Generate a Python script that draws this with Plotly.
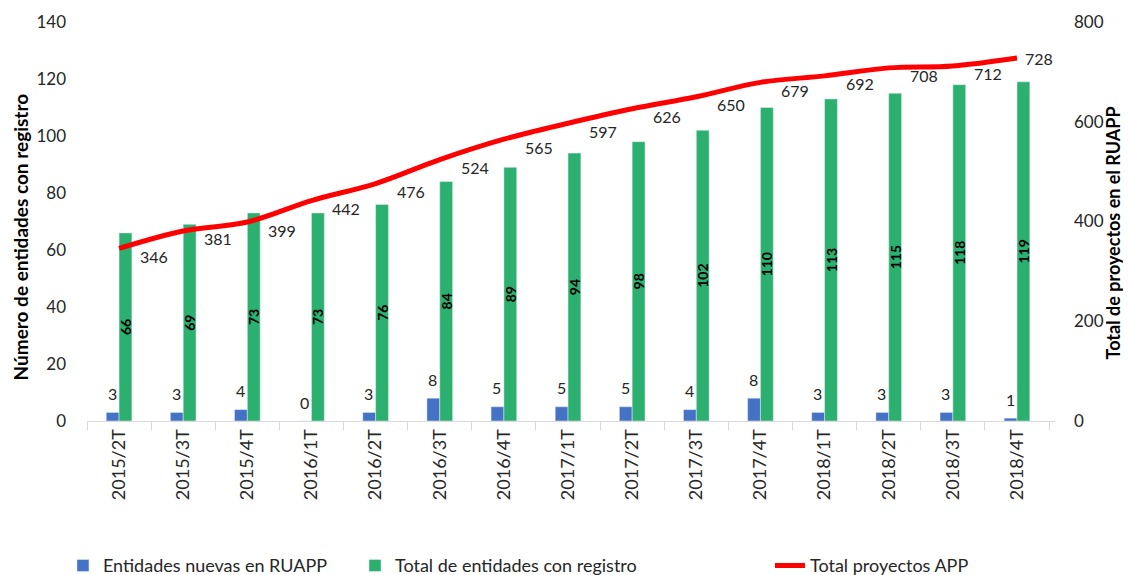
import plotly.graph_objects as go

# --- Data ---
quarters = ['2015/2T', '2015/3T', '2015/4T', '2016/1T', '2016/2T', '2016/3T', '2016/4T',
            '2017/1T', '2017/2T', '2017/3T', '2017/4T', '2018/1T', '2018/2T', '2018/3T', '2018/4T']
nuevas = [3, 3, 4, 0, 3, 8, 5, 5, 5, 4, 8, 3, 3, 3, 1]
total_entidades = [66, 69, 73, 73, 76, 84, 89, 94, 98, 102, 110, 113, 115, 118, 119]
total_proyectos = [346, 381, 399, 442, 476, 524, 565, 597, 626, 650, 679, 692, 708, 712, 728]

FONT = 'Lato'
BLUE = '#4472C4'
GREEN = '#2BB070'
RED = '#FF0000'
TXT = '#262626'

fig = go.Figure()

fig.add_trace(go.Bar(
    x=quarters, y=nuevas, name='Entidades nuevas en RUAPP',
    marker_color=BLUE, legend='legend', showlegend=True,
))
fig.add_trace(go.Bar(
    x=quarters, y=total_entidades, name='Total de entidades con registro',
    marker_color=GREEN, legend='legend2', showlegend=True,
    text=total_entidades, textposition='inside', textangle=-90,
    insidetextanchor='middle',
    textfont=dict(family=FONT, size=14, color='black', weight='bold'),
))
fig.add_trace(go.Scatter(
    x=quarters, y=total_proyectos, name='Total proyectos APP',
    yaxis='y2', mode='lines', line=dict(color=RED, width=5, shape='spline'),
    legend='legend3', showlegend=True,
))

# labels for the new entities (above the blue bars)
for q, v in zip(quarters, nuevas):
    fig.add_annotation(x=q, y=v, yref='y', text=str(v), showarrow=False,
                       xshift=-7, yshift=19,
                       font=dict(family=FONT, size=16, color=TXT))

# labels for the project line (right of each point)
for i, (q, v) in enumerate(zip(quarters, total_proyectos)):
    last = i == len(quarters) - 1
    fig.add_annotation(x=q, y=v, yref='y2', text=str(v), showarrow=False,
                       xanchor='left', xshift=6 if last else 19,
                       yshift=-1 if last else -8,
                       font=dict(family=FONT, size=16, color=TXT))

# axis titles as rotated annotations (easier to place than axis titles here)
fig.add_annotation(xref='paper', yref='paper', x=0, y=0.46, xshift=-67,
                   xanchor='center', yanchor='middle',
                   text='<b>Número de entidades con registro</b>', textangle=-90,
                   showarrow=False, font=dict(family=FONT, size=19, color='black'))
fig.add_annotation(xref='paper', yref='paper', x=1, y=0.47, xshift=58,
                   xanchor='center', yanchor='middle',
                   text='<b>Total de proyectos en el RUAPP</b>', textangle=-90,
                   showarrow=False, font=dict(family=FONT, size=18, color='black'))

# legends placed in container coords so they don't push the margins
legend_common = dict(orientation='h', xref='container', yref='container',
                     xanchor='left', yanchor='middle', y=0.03,
                     font=dict(family=FONT, size=18, color=TXT),
                     bgcolor='rgba(0,0,0,0)')

# note: the page body adds an 8px offset, margins below account for it
fig.update_layout(
    width=1131, height=575,
    margin=dict(l=79, r=84, t=14, b=162),
    plot_bgcolor='white', paper_bgcolor='white',
    font=dict(family=FONT, size=16, color=TXT),
    showlegend=True,
    barmode='group', bargap=0.6, bargroupgap=0,
    uniformtext=dict(minsize=14, mode='show'),
    xaxis=dict(
        type='category', tickangle=-90, showline=True, linecolor='#D9D9D9',
        linewidth=1, ticks='outside', tickson='boundaries', ticklen=8,
        tickcolor='#D9D9D9', showgrid=False, automargin=False,
        tickfont=dict(family=FONT, size=18, color=TXT),
    ),
    yaxis=dict(
        range=[0, 140], dtick=20, showgrid=False, zeroline=False,
        showline=False, ticks='', ticklabelstandoff=20, automargin=False,
        tickfont=dict(family=FONT, size=17, color=TXT),
    ),
    yaxis2=dict(
        range=[0, 800], dtick=200, overlaying='y', side='right',
        showgrid=False, zeroline=False, showline=False, ticks='',
        ticklabelstandoff=18, automargin=False,
        tickfont=dict(family=FONT, size=17, color=TXT),
    ),
    legend=dict(x=0.0486, **legend_common),
    legend2=dict(x=0.3068, **legend_common),
    legend3=dict(x=0.6737, **legend_common),
)

fig.write_html("out.html")
